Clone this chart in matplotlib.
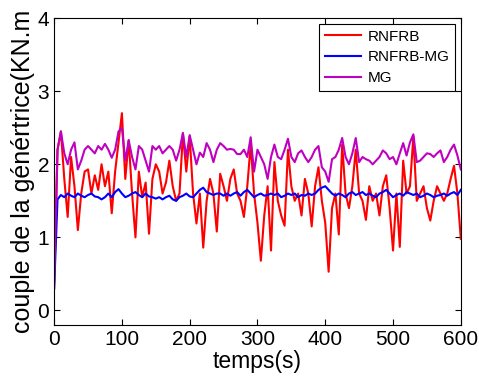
import matplotlib.pyplot as plt
import numpy as np

# Data (torque sampled every 5 s)
temps = np.arange(0, 601, 5)

rnfrb = [0.3, 2.2, 2.45, 1.8, 1.28, 2.1, 1.7, 1.1, 1.6, 1.9,
         1.93, 1.6, 1.85, 1.65, 2.0, 1.7, 1.9, 1.33, 1.9, 2.3,
         2.7, 1.8, 2.33, 1.6, 1.0, 1.9, 1.55, 1.75, 1.05, 1.8,
         2.0, 1.9, 1.6, 1.75, 2.05, 1.7, 1.5, 1.6, 2.42, 1.9,
         2.38, 1.6, 1.19, 1.6, 0.86, 1.5, 1.8, 1.6, 1.08, 1.87,
         1.7, 1.5, 1.8, 1.93, 1.6, 1.5, 1.28, 1.7, 2.27, 1.6,
         1.2, 0.68, 1.3, 1.7, 0.82, 2.03, 1.5, 1.3, 1.16, 2.2,
         1.7, 1.5, 1.6, 1.3, 1.8, 1.6, 1.15, 1.7, 1.96, 1.5,
         1.2, 0.53, 1.4, 1.6, 1.04, 2.27, 1.6, 1.4, 1.7, 2.2,
         1.6, 1.5, 1.24, 1.7, 1.5, 1.6, 1.3, 1.7, 1.85, 1.4,
         0.82, 1.6, 0.87, 2.05, 1.6, 1.7, 2.38, 1.5, 1.6, 1.7,
         1.4, 1.23, 1.5, 1.7, 1.6, 1.5, 1.6, 1.8, 1.98, 1.6,
         0.98]

rnfrb_mg = [0.3, 1.52, 1.58, 1.55, 1.6, 1.57, 1.55, 1.6, 1.57, 1.55,
            1.58, 1.6, 1.56, 1.55, 1.52, 1.55, 1.6, 1.55, 1.62, 1.66,
            1.6, 1.55, 1.57, 1.6, 1.62, 1.58, 1.55, 1.6, 1.56, 1.55,
            1.53, 1.55, 1.52, 1.55, 1.57, 1.52, 1.5, 1.55, 1.57, 1.6,
            1.56, 1.55, 1.6, 1.65, 1.68, 1.62, 1.6, 1.58, 1.6, 1.6,
            1.57, 1.6, 1.57, 1.6, 1.62, 1.57, 1.62, 1.65, 1.6, 1.55,
            1.58, 1.6, 1.57, 1.58, 1.6, 1.58, 1.6, 1.55, 1.57, 1.6,
            1.58, 1.6, 1.55, 1.58, 1.57, 1.6, 1.58, 1.6, 1.65, 1.68,
            1.7, 1.65, 1.6, 1.57, 1.6, 1.58, 1.55, 1.6, 1.62, 1.58,
            1.6, 1.62, 1.58, 1.6, 1.57, 1.55, 1.6, 1.62, 1.65, 1.6,
            1.55, 1.58, 1.6, 1.57, 1.62, 1.6, 1.58, 1.6, 1.55, 1.57,
            1.6, 1.58, 1.55, 1.57, 1.58, 1.6, 1.57, 1.6, 1.62, 1.58,
            1.65]

mg = [0.4, 2.2, 2.45, 2.15, 2.0, 2.2, 2.3, 1.93, 2.05, 2.2,
      2.25, 2.2, 2.15, 2.25, 2.2, 2.28, 2.2, 2.09, 2.2, 2.45,
      2.5, 2.05, 2.33, 2.1, 1.93, 2.25, 2.2, 2.05, 1.9, 2.25,
      2.2, 2.25, 2.15, 2.2, 2.25, 2.2, 2.05, 2.2, 2.43, 2.1,
      2.4, 2.2, 2.0, 2.16, 2.1, 2.29, 2.2, 2.03, 2.2, 2.29,
      2.25, 2.2, 2.21, 2.2, 2.14, 2.14, 2.2, 2.1, 2.37, 1.9,
      2.2, 2.1, 2.0, 1.8, 2.1, 2.27, 2.1, 2.07, 2.2, 2.35,
      2.1, 2.03, 2.15, 2.19, 2.1, 2.03, 2.1, 2.2, 2.25, 1.96,
      1.9, 1.76, 2.07, 2.1, 2.2, 2.36, 2.1, 2.0, 2.15, 2.36,
      2.03, 2.1, 2.07, 2.05, 2.0, 2.05, 2.1, 2.19, 2.15, 2.07,
      2.1, 2.0, 2.15, 2.29, 2.12, 2.3, 2.41, 2.03, 2.05, 2.1,
      2.15, 2.14, 2.1, 2.15, 2.19, 2.03, 2.1, 2.2, 2.27, 2.12,
      1.93]

plt.rcParams['font.family'] = ['Liberation Sans', 'DejaVu Sans']

fig = plt.figure(figsize=(4.79, 3.78), dpi=100)
ax = fig.add_axes([0.113, 0.14, 0.849, 0.812])

ax.plot(temps, rnfrb, color='red', linewidth=1.5, label='RNFRB')
ax.plot(temps, rnfrb_mg, color='blue', linewidth=1.5, label='RNFRB-MG')
ax.plot(temps, mg, color='#c000c0', linewidth=1.5, label='MG')

ax.set_xlim(0, 600)
ax.set_ylim(-0.2, 4)
ax.set_xticks([0, 100, 200, 300, 400, 500, 600])
ax.set_yticks([0, 1, 2, 3, 4])
ax.tick_params(direction='in', top=True, right=True, labelsize=15, length=4)
ax.set_xlabel('temps(s)', fontsize=16.5, labelpad=1)
ax.set_ylabel('couple de la génértrice(KN.m', fontsize=18, labelpad=2)

leg = ax.legend(loc='upper right', fontsize=11, fancybox=False, framealpha=1,
                edgecolor='black', handlelength=2.4, handletextpad=0.4,
                borderaxespad=0.4, labelspacing=0.45, borderpad=0.35)
leg.get_frame().set_linewidth(0.8)

fig.savefig('out.png', dpi=100)
